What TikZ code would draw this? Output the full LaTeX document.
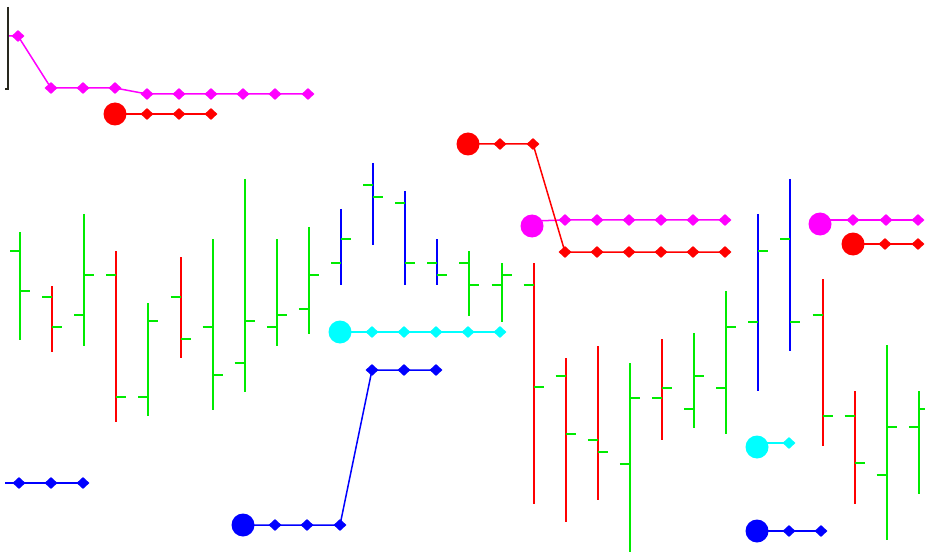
\documentclass[tikz,border=0pt]{standalone}
\usetikzlibrary{shapes.geometric}
\definecolor{cG}{RGB}{0,235,0}
\definecolor{cR}{RGB}{255,0,0}
\definecolor{cB}{RGB}{0,0,255}
\definecolor{cM}{RGB}{255,0,255}
\definecolor{cC}{RGB}{0,255,255}
\definecolor{cK}{RGB}{40,40,30}
\begin{document}
\begin{tikzpicture}[x=1pt,y=-1pt,
  barline/.style={line width=2pt},
  tickline/.style={line width=2pt, cG},
  conn/.style={line width=1.5pt},
  dmd/.style={diamond, draw=none, inner sep=0pt, minimum width=13pt, minimum height=12pt},
  bigdot/.style={circle, draw=none, inner sep=0pt, minimum size=23pt}]
\path[use as bounding box, fill=white] (0,0) rectangle (925,553);

% axis fragment
\draw[line width=1.5pt, cK] (8,7) -- (8,89) -- (5,89);

% OHLC bars
\foreach \i/\h/\l/\o/\c/\col in {
 0/232/340/251/291/cG, 1/286/352/297/327/cR, 2/214/346/315/275/cG,
 3/251/422/275/397/cR, 4/303/416/397/321/cG, 5/257/358/297/339/cR,
 6/239/410/327/375/cG, 7/179/392/363/321/cG, 8/239/346/327/315/cG,
 9/227/334/309/275/cG, 10/209/285/263/239/cB, 11/163/245/185/197/cB,
 12/191/285/203/263/cB, 13/239/285/263/275/cB, 14/251/316/263/285/cG,
 15/263/322/285/275/cG, 16/263/504/285/387/cR, 17/358/522/376/434/cR,
 18/346/500/440/452/cR, 19/363/552/464/398/cG, 20/339/440/398/388/cR,
 21/333/428/409/376/cG, 22/291/434/388/327/cG, 23/214/391/322/251/cB,
 24/179/351/239/322/cB, 25/279/446/315/416/cR, 26/391/504/416/463/cR,
 27/345/540/475/427/cG, 28/391/494/427/409/cG} {
  \pgfmathsetmacro{\xx}{20+32.1*\i}
  \draw[barline,\col] (\xx,\h) -- (\xx,\l);
  \draw[tickline] (\xx-10,\o) -- (\xx,\o);
  \draw[tickline] (\xx,\c) -- (\xx+10,\c);
}

% magenta top
\coordinate (mt0) at (9,36);
\foreach [count=\k] \x/\y in {18/36,51/88,83/88,115/88,147/94,179/94,211/94,243/94,275/94,308/94}
  \coordinate (mt\k) at (\x,\y);
\draw[conn,cM] (mt0) foreach \k in {1,...,10} { -- (mt\k) };
\foreach \k in {1,...,10} \node[dmd,fill=cM] (mtd\k) at (mt\k) {};

% red top
\coordinate (rt0) at (115,114);
\foreach [count=\k] \x in {147,179,211} \coordinate (rt\k) at (\x,114);
\draw[conn,cR] (rt0) foreach \k in {1,...,3} { -- (rt\k) };
\node[bigdot,fill=cR] (rtc) at (rt0) {};
\foreach \k in {1,...,3} \node[dmd,fill=cR] (rtd\k) at (rt\k) {};

% cyan middle
\coordinate (cm0) at (340,332);
\foreach [count=\k] \x in {372,404,436,468,500} \coordinate (cm\k) at (\x,332);
\draw[conn,cC] (cm0) foreach \k in {1,...,5} { -- (cm\k) };
\node[bigdot,fill=cC] (cmc) at (cm0) {};
\foreach \k in {1,...,5} \node[dmd,fill=cC] (cmd\k) at (cm\k) {};

% blue left
\coordinate (bl0) at (5,483);
\foreach [count=\k] \x in {19,51,83} \coordinate (bl\k) at (\x,483);
\draw[conn,cB] (bl0) foreach \k in {1,...,3} { -- (bl\k) };
\foreach \k in {1,...,3} \node[dmd,fill=cB] (bld\k) at (bl\k) {};

% blue middle
\coordinate (bm0) at (243,525);
\foreach [count=\k] \x/\y in {275/525,307/525,340/525,372/370,404/370,436/370}
  \coordinate (bm\k) at (\x,\y);
\draw[conn,cB] (bm0) foreach \k in {1,...,6} { -- (bm\k) };
\node[bigdot,fill=cB] (bmc) at (bm0) {};
\foreach \k in {1,...,6} \node[dmd,fill=cB] (bmd\k) at (bm\k) {};

% magenta middle
\coordinate (mm0) at (532,221);
\foreach [count=\k] \x in {565,597,629,661,693,725} \coordinate (mm\k) at (\x,220);
\draw[conn,cM] (mm0) foreach \k in {1,...,6} { -- (mm\k) };
\node[bigdot,fill=cM] (mmc) at (532,226) {};
\foreach \k in {1,...,6} \node[dmd,fill=cM] (mmd\k) at (mm\k) {};

% red middle
\coordinate (rm0) at (468,144);
\foreach [count=\k] \x/\y in {500/144,533/144,565/252,597/252,629/252,661/252,693/252,725/252}
  \coordinate (rm\k) at (\x,\y);
\draw[conn,cR] (rm0) foreach \k in {1,...,8} { -- (rm\k) };
\node[bigdot,fill=cR] (rmc) at (rm0) {};
\foreach \k in {1,...,8} \node[dmd,fill=cR] (rmd\k) at (rm\k) {};

% magenta right
\coordinate (mr0) at (820,220);
\foreach [count=\k] \x in {853,886,918} \coordinate (mr\k) at (\x,220);
\draw[conn,cM] (mr0) foreach \k in {1,...,3} { -- (mr\k) };
\node[bigdot,fill=cM] (mrc) at (820,224) {};
\foreach \k in {1,...,3} \node[dmd,fill=cM] (mrd\k) at (mr\k) {};

% red right
\coordinate (rr0) at (853,244);
\foreach [count=\k] \x in {885,918} \coordinate (rr\k) at (\x,244);
\draw[conn,cR] (rr0) foreach \k in {1,2} { -- (rr\k) };
\node[bigdot,fill=cR] (rrc) at (rr0) {};
\foreach \k in {1,2} \node[dmd,fill=cR] (rrd\k) at (rr\k) {};

% cyan right
\coordinate (cr0) at (757,443);
\coordinate (cr1) at (789,443);
\draw[conn,cC] (cr0) -- (cr1);
\node[bigdot,fill=cC] (crc) at (757,447) {};
\node[dmd,fill=cC] (crd1) at (cr1) {};

% blue right
\coordinate (br0) at (757,531);
\foreach [count=\k] \x in {789,821} \coordinate (br\k) at (\x,531);
\draw[conn,cB] (br0) foreach \k in {1,2} { -- (br\k) };
\node[bigdot,fill=cB] (brc) at (br0) {};
\foreach \k in {1,2} \node[dmd,fill=cB] (brd\k) at (br\k) {};
\end{tikzpicture}
\end{document}
